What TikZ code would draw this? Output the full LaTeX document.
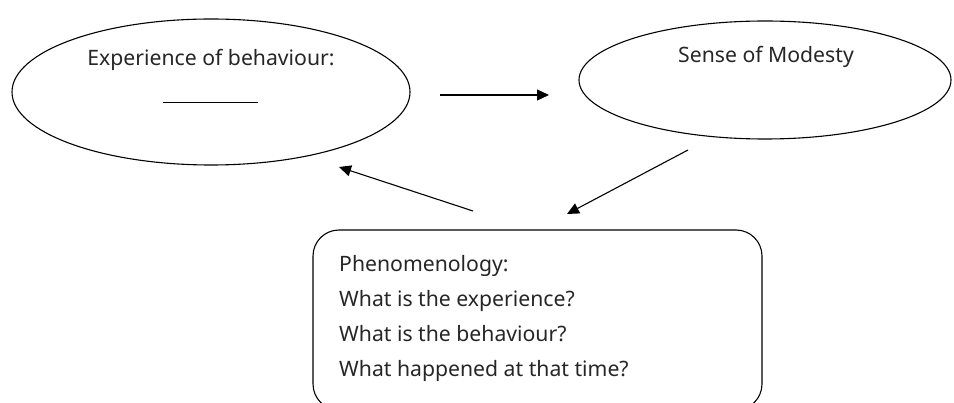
\documentclass[tikz,border=0pt]{standalone}
\usepackage{fontspec}
\setmainfont{Noto Sans}
\usetikzlibrary{shapes.geometric,arrows.meta}
\begin{document}
\begin{tikzpicture}[x=1pt,y=-1pt,
  bubble/.style={ellipse,draw,line width=1.1pt,inner sep=0pt},
  txt/.style={font=\fontsize{21.2}{25}\selectfont,text=black!85,inner sep=0pt},
  link/.style={line width=1.1pt,-{Triangle[length=12pt,width=11pt]}}]
  \useasboundingbox (0,0) rectangle (954,403);
  \begin{scope}
    \clip (0,0) rectangle (954,403);
    % the two ellipses
    \node[bubble,minimum width=398pt,minimum height=146pt] (exp) at (211,92) {};
    \node[bubble,minimum width=372pt,minimum height=118pt] (mod) at (765,80) {};
    \node[txt,anchor=base] (expt) at (211,66) {Experience of behaviour:};
    \draw[line width=0.7pt] (163,102) -- (258,102);
    \node[txt,anchor=base] (modt) at (766,63) {Sense of Modesty};
    % the rounded box, its bottom runs just past the edge
    \draw[line width=1.1pt,rounded corners=26pt] (313,230) rectangle (762,410);
    \node[txt,anchor=base west] (l1) at (339,272) {Phenomenology:};
    \node[txt,anchor=base west] (l2) at (339,307) {What is the experience?};
    \node[txt,anchor=base west] (l3) at (339,342) {What is the behaviour?};
    \node[txt,anchor=base west] (l4) at (339,377) {What happened at that time?};
  \end{scope}
  % arrow ends
  \coordinate (a1) at (440,95);
  \coordinate (a2) at (549,95);
  \coordinate (b1) at (688,150);
  \coordinate (b2) at (567,214);
  \coordinate (c1) at (473,211);
  \coordinate (c2) at (339,167);
  \draw[link] (a1) -- (a2);
  \draw[link] (b1) -- (b2);
  \draw[link] (c1) -- (c2);
\end{tikzpicture}
\end{document}
